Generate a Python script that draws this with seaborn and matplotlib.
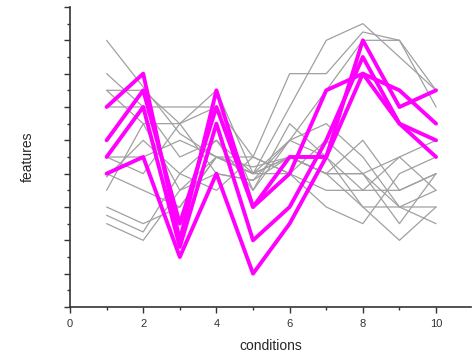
import numpy as np
import pandas as pd
import matplotlib
matplotlib.use("Agg")
import matplotlib.pyplot as plt
import seaborn as sns
from matplotlib.ticker import MultipleLocator

conditions = [1, 2, 3, 4, 5, 6, 7, 8, 9, 10]

# background profiles (gray)
gray_lines = [
    [8.0, 6.6, 5.2, 4.5, 4.0, 6.0, 8.0, 8.5, 7.5, 6.5],
    [7.0, 6.0, 6.0, 6.0, 4.5, 7.0, 7.0, 8.25, 8.0, 6.0],
    [6.5, 6.5, 5.5, 6.5, 4.0, 5.0, 6.5, 8.0, 8.0, 6.5],
    [6.5, 5.5, 5.5, 6.0, 3.5, 5.0, 5.5, 4.5, 3.0, 3.5],
    [6.0, 6.0, 4.5, 5.0, 4.0, 4.5, 4.0, 3.0, 2.0, 3.0],
    [4.5, 4.5, 5.0, 4.5, 4.0, 4.0, 5.0, 4.0, 2.5, 4.0],
    [4.5, 4.0, 5.5, 4.0, 3.8, 4.5, 4.0, 5.0, 3.5, 4.0],
    [3.9, 5.0, 4.0, 5.0, 3.5, 5.5, 4.5, 3.5, 4.5, 3.5],
    [3.5, 5.5, 3.5, 4.5, 4.5, 4.0, 3.5, 3.5, 3.5, 4.0],
    [3.0, 2.5, 3.0, 4.5, 4.0, 4.5, 4.0, 4.0, 3.0, 2.5],
    [2.75, 2.25, 4.0, 3.5, 4.5, 4.0, 3.0, 2.5, 4.0, 4.5],
    [2.5, 2.0, 3.5, 4.0, 3.8, 5.0, 4.5, 3.0, 3.0, 3.0],
    [4.0, 3.5, 3.0, 4.5, 4.2, 4.5, 4.0, 4.0, 4.5, 5.0],
]

# highlighted profiles (magenta)
pink_lines = [
    [6.0, 7.0, 2.0, 6.5, 3.0, 4.5, 4.5, 8.0, 6.0, 6.5],
    [5.0, 6.5, 2.5, 6.0, 3.0, 4.0, 6.5, 7.0, 6.5, 5.5],
    [4.5, 6.0, 1.8, 5.5, 2.0, 3.0, 5.0, 7.5, 5.5, 5.0],
    [4.0, 4.5, 1.5, 4.0, 1.0, 2.5, 4.5, 7.0, 5.5, 4.5],
]


def to_long(lines):
    rows = []
    for i, ys in enumerate(lines):
        for x, y in zip(conditions, ys):
            rows.append({"line": i, "conditions": x, "features": y})
    return pd.DataFrame(rows)


gray_df = to_long(gray_lines)
pink_df = to_long(pink_lines)

sns.set_style("ticks")
plt.rcParams["font.family"] = ["Liberation Sans", "DejaVu Sans"]

fig = plt.figure(figsize=(4.72, 3.58), dpi=100)
ax = fig.add_axes([0.1483, 0.1425, 0.85, 0.838])

sns.lineplot(data=gray_df, x="conditions", y="features", units="line",
             estimator=None, color="#a0a0a0", linewidth=0.9, ax=ax)
sns.lineplot(data=pink_df, x="conditions", y="features", units="line",
             estimator=None, color="#ff00ff", linewidth=2.8, ax=ax)

ax.set_xlim(0, 10.96)
ax.set_ylim(0, 9)
ax.xaxis.set_major_locator(MultipleLocator(2))
ax.xaxis.set_minor_locator(MultipleLocator(1))
ax.yaxis.set_major_locator(MultipleLocator(1))
ax.yaxis.set_minor_locator(MultipleLocator(0.5))
ax.set_yticklabels([])
ax.tick_params(which="major", length=4, width=1, colors="#333333", labelsize=8)
ax.tick_params(which="minor", length=2, width=1, colors="#333333")
ax.tick_params(axis="x", pad=5)
for s in ["left", "bottom"]:
    ax.spines[s].set_color("#333333")
    ax.spines[s].set_linewidth(1.2)
sns.despine(ax=ax)

ax.set_xlabel("conditions", fontsize=10, labelpad=7)
ax.set_ylabel("features", fontsize=10, labelpad=18)

fig.savefig("out.png", dpi=100)
